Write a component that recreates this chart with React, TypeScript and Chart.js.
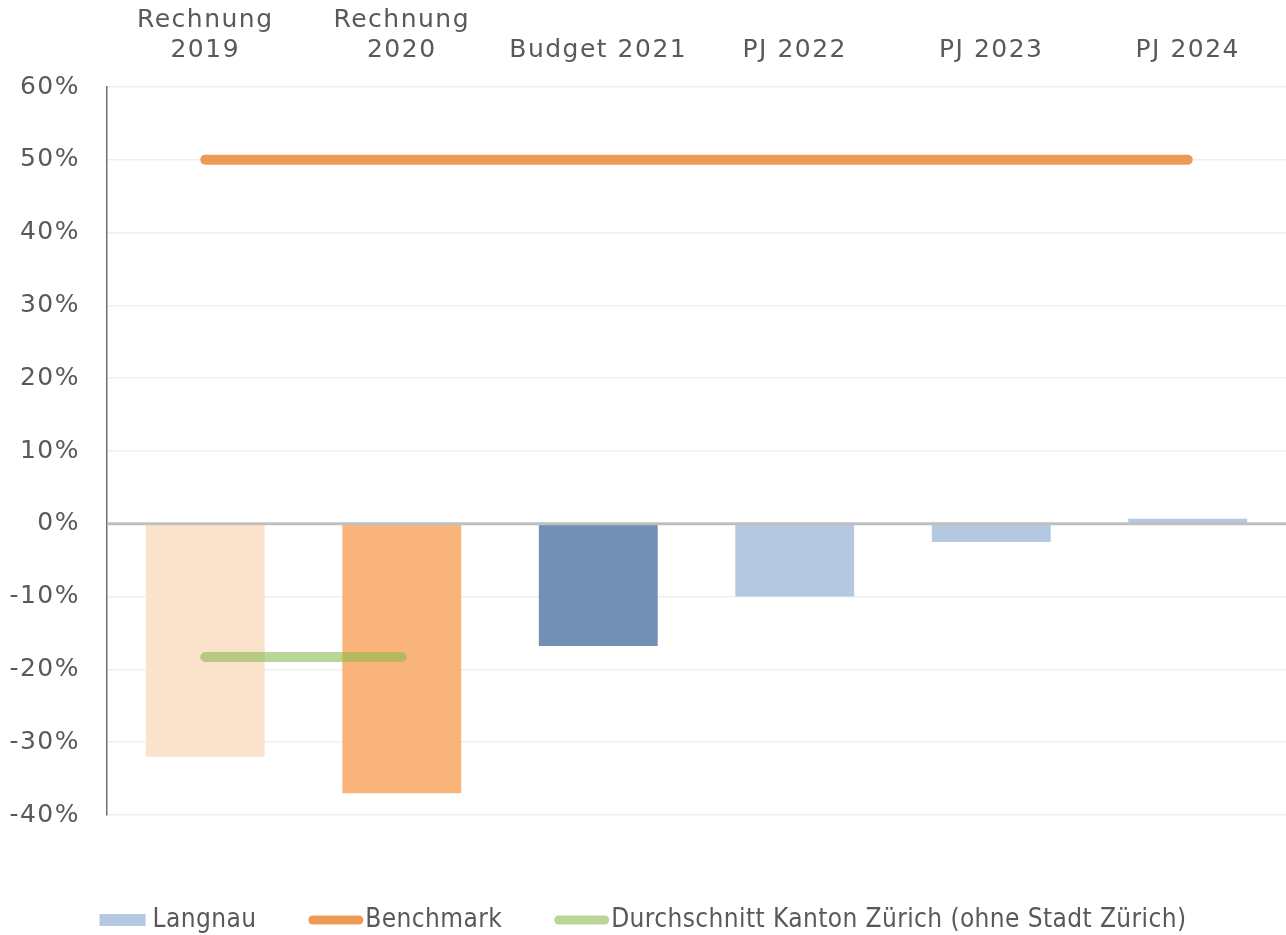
import React, { useEffect, useRef } from "react";
import { Chart, registerables } from "chart.js";

Chart.register(...registerables);

const categories: (string | string[])[] = [
  ["Rechnung", "2019"],
  ["Rechnung", "2020"],
  "Budget 2021",
  "PJ 2022",
  "PJ 2023",
  "PJ 2024",
];
const langnau = [-32, -37, -16.8, -10, -2.5, 0.7];
const benchmark = [50, 50, 50, 50, 50, 50];
const durchschnitt: (number | null)[] = [-18.3, -18.3, null, null, null, null];
const barColors = ["#FBE2CA", "#F9B47C", "#7290B4", "#B4C8E2", "#B4C8E2", "#B4C8E2"];
const yTicks = [-40, -30, -20, -10, 0, 10, 20, 30, 40, 50, 60];

const TEXT = "#595959";
const FONT = "DejaVu Sans";

const spacingPlugin = {
  id: "spacing",
  beforeUpdate(chart: any) {
    chart.ctx.letterSpacing = "1.5px";
  },
  beforeDraw(chart: any) {
    chart.ctx.letterSpacing = "1.5px";
  },
};

const zeroLinePlugin = {
  id: "zeroLine",
  afterDatasetsDraw(chart: any) {
    const { ctx, chartArea, scales } = chart;
    const y = scales.y.getPixelForValue(0);
    ctx.save();
    ctx.strokeStyle = "#BFBFBF";
    ctx.lineWidth = 3;
    ctx.beginPath();
    ctx.moveTo(chartArea.left, y);
    ctx.lineTo(chartArea.right, y);
    ctx.stroke();
    ctx.restore();
  },
};

const legendPlugin = {
  id: "customLegend",
  afterDraw(chart: any) {
    const ctx = chart.ctx;
    const ds = chart.data.datasets;
    ctx.save();
    ctx.letterSpacing = "0.4px";
    ctx.font = `26px "DejaVu Sans Condensed", "${FONT}"`;
    ctx.textBaseline = "middle";
    ctx.textAlign = "left";
    const itemGap = 52;
    const isBar = (d: any) => d.type === "bar" || !d.type;
    const symW = (d: any) => (isBar(d) ? 46 : 55);
    const textOff = (d: any) => (isBar(d) ? 7 : 2);
    const widths = ds.map((d: any) => symW(d) + textOff(d) + ctx.measureText(d.label).width);
    const total = widths.reduce((a: number, b: number) => a + b, 0) + itemGap * (ds.length - 1);
    let x = chart.width / 2 - total / 2;
    const y = 920;
    ds.forEach((d: any, i: number) => {
      const w = symW(d);
      if (isBar(d)) {
        ctx.fillStyle = "#B4C8E2";
        ctx.fillRect(x, y - 6, w, 12);
      } else {
        ctx.strokeStyle = d.borderColor;
        ctx.lineWidth = 9;
        ctx.lineCap = "round";
        ctx.beginPath();
        ctx.moveTo(x + 4.5, y);
        ctx.lineTo(x + w - 4.5, y);
        ctx.stroke();
      }
      ctx.fillStyle = TEXT;
      ctx.fillText(d.label, x + w + textOff(d), y);
      x += widths[i] + itemGap;
    });
    ctx.restore();
  },
};

export default function App() {
  const ref = useRef<HTMLCanvasElement | null>(null);
  useEffect(() => {
    if (!ref.current) return;
    const chart = new Chart(ref.current, {
      type: "bar",
      data: {
        labels: categories,
        datasets: [
          {
            type: "bar",
            label: "Langnau",
            data: langnau,
            backgroundColor: barColors,
            barPercentage: 0.605,
            categoryPercentage: 1,
            order: 2,
          } as any,
          {
            type: "line",
            label: "Benchmark",
            data: benchmark,
            borderColor: "#ED9A55",
            borderWidth: 10,
            borderCapStyle: "round",
            pointRadius: 0,
            fill: false,
            order: 1,
          } as any,
          {
            type: "line",
            label: "Durchschnitt Kanton Zürich (ohne Stadt Zürich)",
            data: durchschnitt,
            borderColor: "rgba(140,186,80,0.6)",
            borderWidth: 10,
            borderCapStyle: "round",
            pointRadius: 0,
            fill: false,
            order: 0,
          } as any,
        ],
      },
      options: {
        animation: false,
        responsive: true,
        maintainAspectRatio: false,
        layout: { padding: { left: 0, right: 0, top: 0, bottom: 120 } },
        plugins: {
          legend: { display: false },
          tooltip: { enabled: false },
        },
        scales: {
          x: {
            position: "top",
            grid: { display: false, drawTicks: false },
            border: { display: false },
            ticks: {
              color: TEXT,
              font: { family: FONT, size: 25, lineHeight: 1.2 },
              padding: 22,
              maxRotation: 0,
              autoSkip: false,
            },
            afterFit: (s: any) => {
              s.height = 87;
            },
          },
          y: {
            min: -40,
            max: 60,
            afterBuildTicks: (s: any) => {
              s.ticks = yTicks.map((v) => ({ value: v }));
            },
            grid: {
              color: "#EFEFEF",
              lineWidth: 1.5,
              drawTicks: false,
            },
            border: { display: true, color: "#6F6F6F", width: 1.5 },
            ticks: {
              color: TEXT,
              font: { family: FONT, size: 25 },
              padding: 27,
              callback: (v: any) => `${v}%`,
            },
            afterFit: (s: any) => {
              s.width = 107;
            },
          },
        },
      },
      plugins: [spacingPlugin, zeroLinePlugin, legendPlugin],
    });
    return () => chart.destroy();
  }, []);
  return (
    <div style={{ position: "absolute", left: 0, top: 0, width: 1286, height: 935, background: "#fff" }}>
      <canvas ref={ref} />
    </div>
  );
}
